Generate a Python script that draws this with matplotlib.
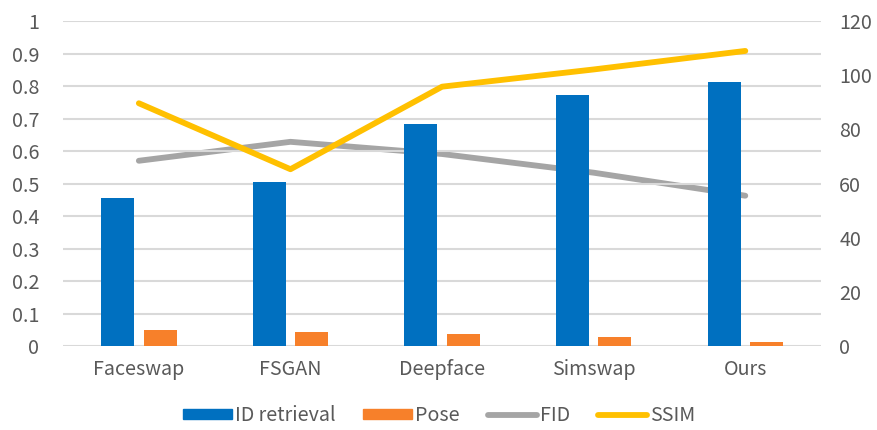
import numpy as np
import matplotlib
matplotlib.use("Agg")
import matplotlib.pyplot as plt
from matplotlib.patches import Patch
from matplotlib.lines import Line2D

plt.rcParams['font.family'] = ['Noto Sans CJK SC', 'DejaVu Sans']

# data
methods = ["Faceswap", "FSGAN", "Deepface", "Simswap", "Ours"]
id_retrieval = [0.454, 0.505, 0.682, 0.773, 0.813]
pose = [0.049, 0.042, 0.037, 0.027, 0.013]
ssim = [0.747, 0.544, 0.798, 0.851, 0.908]
fid = [68.4, 75.4, 70.9, 64.0, 55.5]

blue = "#0070C0"
orange = "#F7802A"
gray = "#A5A5A5"
yellow = "#FFC000"
txt = "#595959"

fig = plt.figure(figsize=(8.78, 4.30), dpi=100)
ax = fig.add_axes([0.0718, 0.1953, 0.8634, 0.7558])
ax2 = ax.twinx()

x = np.arange(len(methods))
w = 0.218
off = 0.14

ax.set_axisbelow(True)
ax.bar(x - off, id_retrieval, width=w, color=blue, zorder=2)
ax.bar(x + off, pose, width=w, color=orange, zorder=2)
ax.plot(x, ssim, color=yellow, lw=4.2, solid_capstyle="round", zorder=4)
ax2.plot(x, fid, color=gray, lw=4.2, solid_capstyle="round", zorder=3)

ax.set_xlim(-0.5, 4.5)
ax.set_ylim(0, 1)
ax2.set_ylim(0, 120)
ax.set_yticks(np.arange(0, 1.01, 0.1))
ax.set_yticklabels(["0"] + [f"{v:.1f}" for v in np.arange(0.1, 0.95, 0.1)] + ["1"])
ax2.set_yticks(np.arange(0, 121, 20))
ax.set_xticks(x)
ax.set_xticklabels(methods)

ax.grid(axis="y", color="#D9D9D9", lw=1.5)
for a in (ax, ax2):
    for s in a.spines.values():
        s.set_visible(False)
    a.tick_params(length=0, labelsize=14.2, colors=txt)
ax.tick_params(axis="y", pad=17)
ax2.tick_params(axis="y", pad=13)
ax.tick_params(axis="x", pad=9)

# bring lines above bars from the twin axis
ax.set_zorder(ax2.get_zorder() + 1)
ax.patch.set_visible(False)

handles = [
    Patch(color=blue, label="ID retrieval"),
    Patch(color=orange, label="Pose"),
    Line2D([], [], color=gray, lw=4.2, solid_capstyle="round", label="FID"),
    Line2D([], [], color=yellow, lw=4.2, solid_capstyle="round", label="SSIM"),
]
leg = fig.legend(handles=handles, loc="center", bbox_to_anchor=(0.5, 0.033), ncol=4,
                 frameon=False, fontsize=14.2, handlelength=2.5, handleheight=0.42,
                 handletextpad=0.15, columnspacing=1.4, labelcolor=txt)

fig.savefig("out.png", dpi=100)
